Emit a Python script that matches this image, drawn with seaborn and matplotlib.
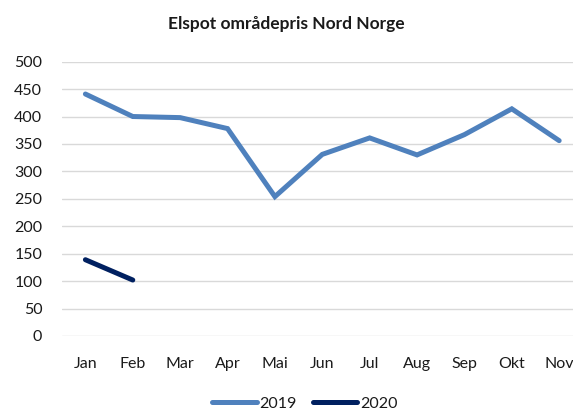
import pandas as pd
import matplotlib.pyplot as plt
import seaborn as sns

# data
months = ['Jan', 'Feb', 'Mar', 'Apr', 'Mai', 'Jun', 'Jul', 'Aug', 'Sep', 'Okt', 'Nov']
pris_2019 = [441, 400, 398, 378, 254, 331, 361, 330, 367, 414, 356]
pris_2020 = [139, 102]
years = ['2019', '2020']

df = pd.concat([
    pd.DataFrame({'Mnd': months, 'Pris': pris_2019, 'År': '2019'}),
    pd.DataFrame({'Mnd': months[:len(pris_2020)], 'Pris': pris_2020, 'År': '2020'}),
])
df['pos'] = df['Mnd'].map({m: i for i, m in enumerate(months)})

sns.set_theme(style="white")
plt.rcParams['font.family'] = ['Lato', 'DejaVu Sans']

fig = plt.figure(figsize=(5.73, 4.11), dpi=100)
ax = fig.add_axes([0.1077, 0.1825, 0.9095, 0.6675])

colors = {'2019': '#4F81BD', '2020': '#002060'}
sns.lineplot(data=df, x='pos', y='Pris', hue='År', palette=colors, hue_order=years,
             linewidth=3.6, ax=ax, sort=False, legend=False)
for line in ax.lines:
    line.set_solid_capstyle('round')
    line.set_solid_joinstyle('miter')

ax.set_xlim(-0.5, len(months) - 0.5)
ax.set_ylim(0, 500)
ax.set_yticks(range(0, 501, 50))
ax.set_xticks(range(len(months)))
ax.set_xticklabels(months)
ax.set_xlabel('')
ax.set_ylabel('')
ax.tick_params(axis='both', labelsize=11.5, colors='#1a1a1a', length=0)
ax.tick_params(axis='y', pad=14)
ax.tick_params(axis='x', pad=15)
ax.grid(axis='y', color='#D9D9D9', linewidth=1)
ax.set_axisbelow(True)
for s in ax.spines.values():
    s.set_visible(False)

fig.suptitle('Elspot områdepris Nord Norge', y=0.96, x=0.5, fontsize=12.5, fontweight='bold',
             color='#1a1a1a')

handles = [plt.Line2D([], [], color=colors[y], linewidth=3.6, solid_capstyle='round') for y in years]
fig.legend(handles, years, loc='lower center', bbox_to_anchor=(0.532, -0.035), ncol=2,
           frameon=False, fontsize=11.5, handlelength=2.8, handletextpad=0.15,
           columnspacing=1.0, labelcolor='#1a1a1a')

plt.savefig('out.png', dpi=100)
